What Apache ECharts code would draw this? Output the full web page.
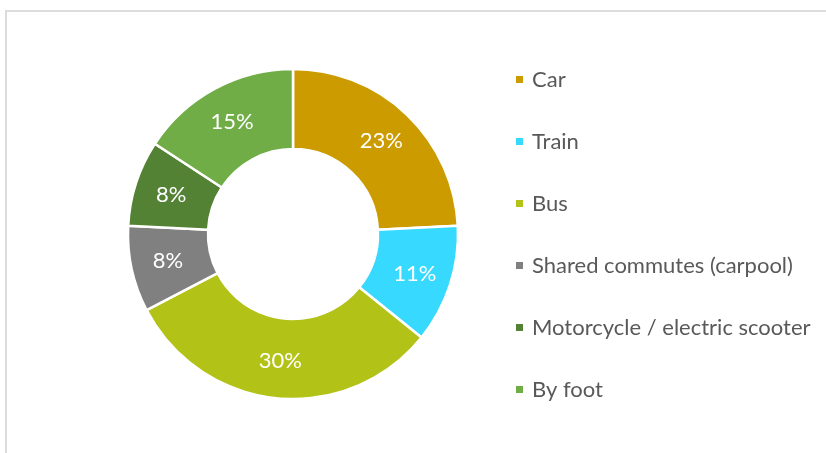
<!DOCTYPE html>
<html>
<head>
<meta charset="utf-8">
<script src="https://cdn.jsdelivr.net/npm/echarts@6/dist/echarts.min.js"></script>
<style>
  html, body { margin: 0; padding: 0; background: #fff; }
  #frame {
    position: absolute; left: 5px; top: 10px; width: 821px; height: 443px;
    border-left: 2px solid #dcdcdc; border-top: 2px solid #dcdcdc;
    box-sizing: border-box;
  }
  #chart { position: absolute; left: 0; top: 0; width: 826px; height: 453px; }
</style>
</head>
<body>
<div id="frame"></div>
<div id="chart"></div>
<script>
// commute modes, share in percent as printed on the slices
const modes = ['Car', 'Train', 'Bus', 'Shared commutes (carpool)', 'Motorcycle / electric scooter', 'By foot'];
const shares = [23, 11, 30, 8, 8, 15];
const colors = ['#CC9B00', '#37D9FF', '#B2C216', '#808080', '#548235', '#70AD47'];

const chart = echarts.init(document.getElementById('chart'));

const option = {
  color: colors,
  legend: {
    orient: 'vertical',
    left: 509,
    top: 62,
    itemWidth: 9,
    itemHeight: 9,
    itemGap: 37,
    icon: 'rect',
    textStyle: {
      fontFamily: 'Lato',
      fontSize: 22,
      lineHeight: 25,
      color: '#595959',
      padding: [0, 0, 0, 3]
    },
    data: modes
  },
  series: [
    {
      type: 'pie',
      center: [293, 234],
      radius: [85, 165],
      startAngle: 90,
      clockwise: true,
      silent: true,
      itemStyle: { borderColor: '#fff', borderWidth: 2.5 },
      label: {
        position: 'inside',
        color: '#fff',
        fontFamily: 'Lato',
        fontSize: 22,
        formatter: p => p.value + '%'
      },
      labelLine: { show: false },
      data: modes.map((m, i) => ({ name: m, value: shares[i] }))
    }
  ]
};

chart.setOption(option);
</script>
</body>
</html>
